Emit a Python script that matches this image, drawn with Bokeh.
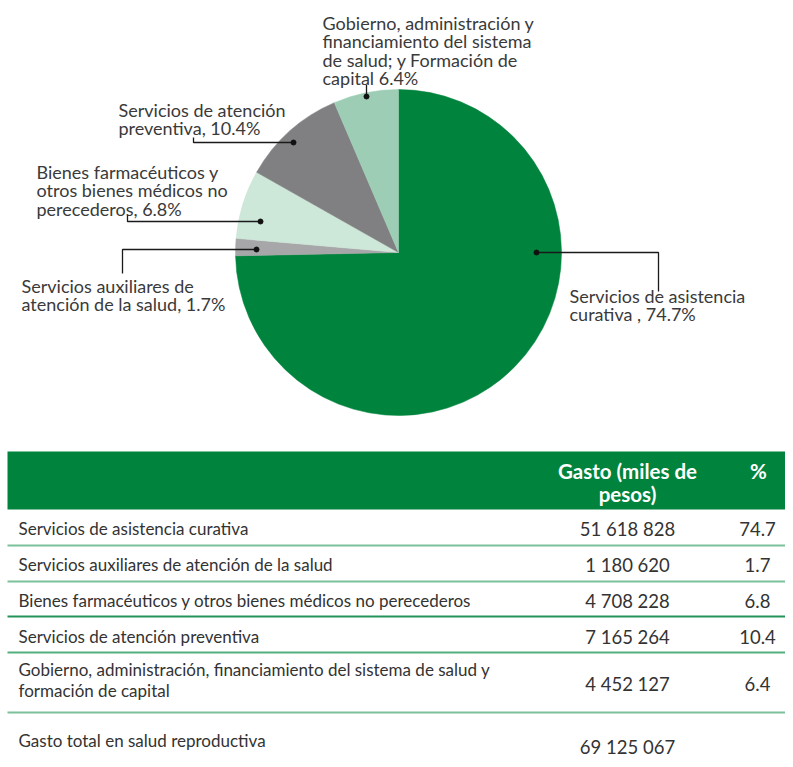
import math
from bokeh.plotting import figure
from bokeh.models import Range1d, ColumnDataSource
from bokeh.core.properties import value
from bokeh.embed import file_html
from bokeh.resources import INLINE

# ---------------- data ----------------
categories = [
    "Servicios de asistencia curativa",
    "Servicios auxiliares de atención de la salud",
    "Bienes farmacéuticos y otros bienes médicos no perecederos",
    "Servicios de atención preventiva",
    "Gobierno, administración, financiamiento del sistema de salud y\nformación de capital",
]
gasto = [51618828, 1180620, 4708228, 7165264, 4452127]
gasto_labels = ["51 618 828", "1 180 620", "4 708 228", "7 165 264", "4 452 127"]
percent_labels = ["74.7", "1.7", "6.8", "10.4", "6.4"]
pie_labels = [
    "Servicios de asistencia\ncurativa , 74.7%",
    "Servicios auxiliares de\natención de la salud, 1.7%",
    "Bienes farmacéuticos y\notros bienes médicos no\nperecederos, 6.8%",
    "Servicios de atención\npreventiva, 10.4%",
    "Gobierno, administración y\nfinanciamiento del sistema\nde salud; y Formación de\ncapital 6.4%",
]
header_gasto = "Gasto (miles de\npesos)"
header_pct = "%"
total_label = "Gasto total en salud reproductiva"
total_value = "69 125 067"

# ---------------- styles / layout ----------------
slice_colors = ["#00843D", "#A7A7A9", "#CDE7D9", "#808082", "#9DCEB5"]
FONT = "Lato"
TXT = "#333333"
W, H = 785, 759

def Y(y):
    return -y

p = figure(width=W, height=H, x_range=Range1d(0, W), y_range=Range1d(-H, 0),
           output_backend="svg", toolbar_location=None, min_border=0,
           outline_line_color=None, background_fill_color="white")
p.axis.visible = False
p.grid.visible = False

# ---------------- pie ----------------
cx, cy, r = 398, 252, 163
total = sum(gasto)
starts, ends = [], []
cum = 0.0
for v in gasto:
    starts.append(math.pi / 2 - 2 * math.pi * cum / total)
    cum += v
    ends.append(math.pi / 2 - 2 * math.pi * cum / total)
src = ColumnDataSource(dict(x=[cx] * len(gasto), y=[Y(cy)] * len(gasto),
                            start=starts, end=ends, color=slice_colors))
p.wedge(x="x", y="y", radius=r, start_angle="start", end_angle="end",
        direction="clock", fill_color="color", line_color="color", line_width=0.5, source=src)

# leader lines: (dot, path points)
leaders = [
    [(536, 252), (658, 252), (658, 291)],
    [(256, 249), (122, 249), (122, 273)],
    [(260, 221), (127, 221), (127, 214)],
    [(293, 142), (193, 142), (193, 137)],
    [(366, 96), (366, 84)],
]
for pts in leaders:
    p.line([q[0] for q in pts], [Y(q[1]) for q in pts], line_color="#1a1a1a", line_width=1.3)
    p.scatter([pts[0][0]], [Y(pts[0][1])], size=5, color="#111111")

label_pos = [(569, 295), (21, 285), (36, 171), (118, 109), (322, 22)]
lh = 18.6
lx, ly, lt = [], [], []
for (x0, y0), lab in zip(label_pos, pie_labels):
    for i, line in enumerate(lab.split("\n")):
        lx.append(x0); ly.append(Y(y0 + i * lh)); lt.append(line)
p.text(x=lx, y=ly, text=lt, text_font=value(FONT), text_font_size="18px",
       text_color="#3a3a3a", text_baseline="middle", text_align="left")

# ---------------- table ----------------
pct_x = 757
p.quad(left=7, right=W, top=Y(451), bottom=Y(509), fill_color="#00843D", line_color=None)
hx, hy, ht = [], [], []
for i, line in enumerate(header_gasto.split("\n")):
    hx.append(627); hy.append(Y(470 + i * 23)); ht.append(line)
hx.append(pct_x + 1); hy.append(Y(470)); ht.append(header_pct)
p.text(x=hx, y=hy, text=ht, text_font=value(FONT), text_font_size="20.5px",
       text_font_style="bold", text_color="white", text_baseline="middle", text_align="center")

row_centers = [528, 564, 600, 636, 678]
sep_lines = [545, 581, 616, 652, 712]
sep_colors = ["#7DC19C", "#7DC19C", "#23935A", "#55B07F", "#7DC19C"]
for yy, c in zip(sep_lines, sep_colors):
    p.line([7, W], [Y(yy), Y(yy)], line_color=c, line_width=2)

tx, ty, tt = [], [], []
for rc, cat in zip(row_centers, categories):
    lines = cat.split("\n")
    if len(lines) == 1:
        tx.append(18); ty.append(Y(rc)); tt.append(lines[0])
    else:
        for i, line in enumerate(lines):
            tx.append(18); ty.append(Y(669 + i * 21)); tt.append(line)
tx.append(18); ty.append(Y(740)); tt.append(total_label)
p.text(x=tx, y=ty, text=tt, text_font=value(FONT), text_font_size="17px",
       text_color=TXT, text_baseline="middle", text_align="left")

nx = [627] * len(gasto_labels) + [627]
ny = [Y(c) for c in [528, 564, 600, 636, 683]] + [Y(746)]
p.text(x=nx, y=ny, text=gasto_labels + [total_value], text_font=value(FONT), text_font_size="18.5px",
       text_color=TXT, text_baseline="middle", text_align="center")
p.text(x=[pct_x] * len(percent_labels), y=[Y(c) for c in [528, 564, 600, 636, 683]],
       text=percent_labels, text_font=value(FONT), text_font_size="18.5px",
       text_color=TXT, text_baseline="middle", text_align="center")

open("out.html", "w").write(file_html(p, INLINE))
